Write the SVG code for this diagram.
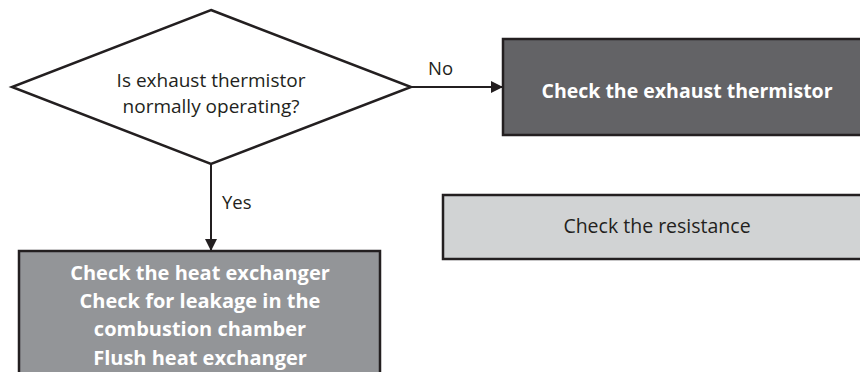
<svg xmlns="http://www.w3.org/2000/svg" width="860" height="372" viewBox="0 0 860 372">
<defs>
<style>
.bg{fill:#ffffff}
.shape{stroke:#231f20;stroke-width:2.5}
.dec{fill:#ffffff}
.dark{fill:#636366}
.light{fill:#d1d3d4}
.mid{fill:#939598}
.t{font-family:"Open Sans","Liberation Sans",sans-serif;text-anchor:middle}
.dtext{font-size:19px;fill:#231f20}
.wb{font-size:19.5px;font-weight:bold;fill:#ffffff}
.lbl{font-family:"Open Sans","Liberation Sans",sans-serif;font-size:18.5px;fill:#231f20}
.conn{stroke:#231f20;stroke-width:2;fill:none}
</style>
<marker id="arr" viewBox="0 0 12 12" refX="12" refY="6" markerWidth="12" markerHeight="12" markerUnits="userSpaceOnUse" orient="auto">
<path d="M0,0 L12,6 L0,12 Z" fill="#231f20"/>
</marker>
</defs>
<rect class="bg" x="0" y="0" width="860" height="372"/>
<g id="connectors">
<line class="conn" x1="411" y1="87" x2="503" y2="87" marker-end="url(#arr)"/>
<line class="conn" x1="211" y1="164" x2="211" y2="251" marker-end="url(#arr)"/>
<text class="lbl" x="428" y="75">No</text>
<text class="lbl" x="222" y="209">Yes</text>
</g>
<g id="decision">
<polygon class="shape dec" points="211,10 411,87 211,164 12,87"/>
<text class="t dtext" x="211" y="87">Is exhaust thermistor</text>
<text class="t dtext" x="211" y="113">normally operating?</text>
</g>
<g id="check-thermistor">
<rect class="shape dark" x="503" y="39" width="370" height="96"/>
<text class="t wb" x="687" y="98">Check the exhaust thermistor</text>
</g>
<g id="check-resistance">
<rect class="shape light" x="443" y="195" width="430" height="64"/>
<text class="t dtext" x="657" y="233" style="font-size:19.5px">Check the resistance</text>
</g>
<g id="check-heat-exchanger">
<rect class="shape mid" x="19" y="251" width="361" height="130"/>
<text class="t wb" x="200" y="280" style="font-size:20px">Check the heat exchanger</text>
<text class="t wb" x="200" y="308" style="font-size:20px">Check for leakage in the</text>
<text class="t wb" x="200" y="336" style="font-size:20px">combustion chamber</text>
<text class="t wb" x="200" y="365" style="font-size:20px">Flush heat exchanger</text>
</g>
</svg>
